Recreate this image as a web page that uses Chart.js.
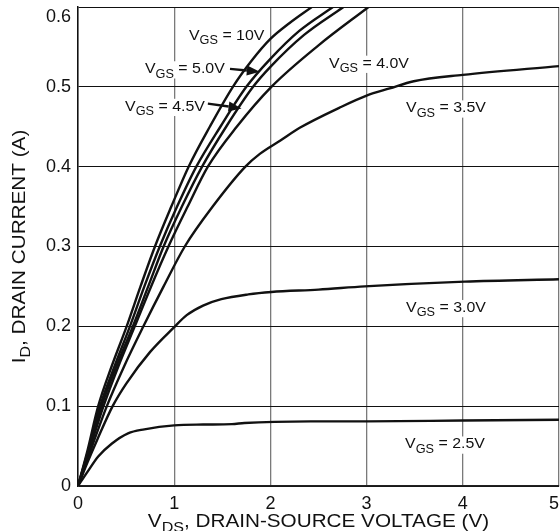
<!DOCTYPE html>
<html>
<head>
<meta charset="utf-8">
<script src="https://cdn.jsdelivr.net/npm/chart.js@4.4.0/dist/chart.umd.min.js"></script>
<style>
html, body { margin: 0; padding: 0; background: #fff; }
#wrap { width: 560px; height: 531px; }
</style>
</head>
<body>
<div id="wrap"><canvas id="myChart"></canvas></div>
<script>
// drain-source voltage (V) and drain current (A), one pair per gate voltage
var vds_10 = [0, 0.1, 0.21, 0.35, 0.506, 0.65, 0.8, 0.97, 1.15, 1.37, 1.61, 1.8, 2.0, 2.2, 2.43];
var id_10  = [0, 0.045, 0.1, 0.15, 0.2, 0.25, 0.3, 0.35, 0.4, 0.45, 0.5, 0.532, 0.56, 0.58, 0.6];

var vds_50 = [0, 0.1, 0.23, 0.38, 0.54, 0.69, 0.85, 1.03, 1.23, 1.48, 1.75, 2.0, 2.3, 2.65];
var id_50  = [0, 0.042, 0.1, 0.15, 0.2, 0.25, 0.3, 0.35, 0.4, 0.45, 0.5, 0.535, 0.57, 0.6];

var vds_45 = [0, 0.1, 0.245, 0.4, 0.57, 0.73, 0.89, 1.08, 1.29, 1.54, 1.82, 2.0, 2.35, 2.76];
var id_45  = [0, 0.04, 0.1, 0.15, 0.2, 0.25, 0.3, 0.35, 0.4, 0.45, 0.5, 0.525, 0.565, 0.6];

var vds_40 = [0, 0.1, 0.265, 0.42, 0.59, 0.76, 0.94, 1.14, 1.35, 1.65, 2.01, 2.5, 3.02];
var id_40  = [0, 0.038, 0.1, 0.15, 0.2, 0.25, 0.3, 0.35, 0.4, 0.45, 0.5, 0.552, 0.6];

var vds_35 = [0, 0.1, 0.3, 0.48, 0.68, 0.89, 1.11, 1.4, 1.74, 1.89, 2.1, 2.31, 2.72, 3.0, 3.24, 3.49, 4.0, 5.0];
var id_35  = [0, 0.034, 0.1, 0.15, 0.2, 0.25, 0.3, 0.35, 0.4, 0.416, 0.4325, 0.449, 0.474, 0.489, 0.498, 0.507, 0.515, 0.526];

var vds_30 = [0, 0.1, 0.2, 0.36, 0.5, 0.75, 1.0, 1.13, 1.3, 1.49, 1.77, 2.01, 2.5, 2.98, 4.02, 5.0];
var id_30  = [0, 0.03, 0.058, 0.1, 0.128, 0.168, 0.199, 0.214, 0.226, 0.234, 0.24, 0.243, 0.246, 0.25, 0.256, 0.259];

var vds_25 = [0, 0.1, 0.21, 0.35, 0.52, 0.69, 1.0, 1.3, 1.6, 1.73, 2.42, 3.0, 4.0, 5.0];
var id_25  = [0, 0.018, 0.037, 0.053, 0.066, 0.071, 0.076, 0.077, 0.0775, 0.079, 0.081, 0.081, 0.082, 0.083];

var gateLabels = ['10V', '5.0V', '4.5V', '4.0V', '3.5V', '3.0V', '2.5V'];
var xTicks = [0, 1, 2, 3, 4, 5];
var yTicks = [0, 0.1, 0.2, 0.3, 0.4, 0.5, 0.6];

// where the curve labels sit (left edge, baseline), in axis units
var labelSpots = [
    [1.154, 0.559], [0.696, 0.517], [0.489, 0.470], [2.61, 0.524],
    [3.41, 0.468], [3.41, 0.218], [3.40, 0.047]
];
// arrows for 5.0V and 4.5V: [fromX, fromY, toX, toY]
var arrows = [
    [1.58, 0.5225, 1.89, 0.519],
    [1.35, 0.479, 1.70, 0.473]
];

var FONT = '"Liberation Sans", Arial, Helvetica, sans-serif';

function pairs(xs, ys) {
    var out = [];
    for (var i = 0; i < xs.length; i++) out.push({x: xs[i], y: ys[i]});
    return out;
}

function curve(xs, ys) {
    return {
        data: pairs(xs, ys),
        showLine: true,
        borderColor: '#111',
        borderWidth: 2.4,
        pointRadius: 0,
        cubicInterpolationMode: 'monotone',
        fill: false
    };
}

// draws text made of [string, isSubscript] pieces
function subText(ctx, x, y, parts, size, subSize, stretch, align, bg) {
    ctx.save();
    ctx.translate(x, y);
    ctx.scale(stretch, 1);
    var total = 0;
    parts.forEach(function(p) {
        ctx.font = (p[1] ? subSize : size) + 'px ' + FONT;
        total += ctx.measureText(p[0]).width;
    });
    var cx = align === 'center' ? -total / 2 : 0;
    if (bg) {
        ctx.fillStyle = '#fff';
        ctx.fillRect(cx - 2, -size * 0.8, total + 4, size * 1.15);
    }
    ctx.fillStyle = '#111';
    ctx.textBaseline = 'alphabetic';
    ctx.textAlign = 'left';
    parts.forEach(function(p) {
        ctx.font = (p[1] ? subSize : size) + 'px ' + FONT;
        ctx.fillText(p[0], cx, p[1] ? size * 0.3 : 0);
        cx += ctx.measureText(p[0]).width;
    });
    ctx.restore();
}

var chartText = {
    id: 'chartText',
    beforeDraw: function(chart) {
        // "0" centred under the axis start, "0.6" tucked under the top edge
        var items = chart.scales.x.getLabelItems();
        if (items.length) items[0].options.textAlign = 'center';
        var yItems = chart.scales.y.getLabelItems();
        if (yItems.length) {
            var last = yItems[yItems.length - 1];
            last.options.textBaseline = 'top';
            last.options.translation = [last.options.translation[0], chart.chartArea.top + 1];
        }
    },
    beforeDatasetsDraw: function(chart) {
        var ctx = chart.ctx, sx = chart.scales.x, sy = chart.scales.y;
        for (var i = 0; i < gateLabels.length; i++) {
            var px = sx.getPixelForValue(labelSpots[i][0]);
            var py = sy.getPixelForValue(labelSpots[i][1]);
            subText(ctx, px, py, [['V', false], ['GS', true], [' = ' + gateLabels[i], false]], 15, 12, 1.06, 'left', true);
        }
    },
    afterDatasetsDraw: function(chart) {
        var ctx = chart.ctx, sx = chart.scales.x, sy = chart.scales.y;
        ctx.save();
        ctx.strokeStyle = '#111';
        ctx.fillStyle = '#111';
        ctx.lineWidth = 2.4;
        arrows.forEach(function(a) {
            var x1 = sx.getPixelForValue(a[0]), y1 = sy.getPixelForValue(a[1]);
            var x2 = sx.getPixelForValue(a[2]), y2 = sy.getPixelForValue(a[3]);
            var ang = Math.atan2(y2 - y1, x2 - x1);
            var hl = 13, hw = 5;
            var bx = x2 - hl * Math.cos(ang), by = y2 - hl * Math.sin(ang);
            ctx.beginPath();
            ctx.moveTo(x1, y1);
            ctx.lineTo(bx, by);
            ctx.stroke();
            ctx.beginPath();
            ctx.moveTo(x2, y2);
            ctx.lineTo(bx + hw * Math.sin(ang), by - hw * Math.cos(ang));
            ctx.lineTo(bx - hw * Math.sin(ang), by + hw * Math.cos(ang));
            ctx.closePath();
            ctx.fill();
        });
        ctx.restore();
    },
    afterDraw: function(chart) {
        var ctx = chart.ctx, area = chart.chartArea;
        // x axis title
        subText(ctx, (area.left + area.right) / 2, 527,
            [['V', false], ['DS', true], [', DRAIN-SOURCE VOLTAGE (V)', false]], 18, 14, 1.15, 'center', false);
        // y axis title
        ctx.save();
        ctx.translate(25, (area.top + area.bottom) / 2);
        ctx.rotate(-Math.PI / 2);
        subText(ctx, 0, 0, [['I', false], ['D', true], [', DRAIN CURRENT (A)', false]], 18, 14, 1.15, 'center', false);
        ctx.restore();
    }
};

var config = {
    type: 'scatter',
    data: {
        datasets: [
            curve(vds_10, id_10),
            curve(vds_50, id_50),
            curve(vds_45, id_45),
            curve(vds_40, id_40),
            curve(vds_35, id_35),
            curve(vds_30, id_30),
            curve(vds_25, id_25)
        ]
    },
    options: {
        responsive: true,
        maintainAspectRatio: false,
        animation: false,
        events: [],
        layout: { padding: { top: 7, right: 1, left: 0, bottom: 0 } },
        plugins: { legend: { display: false }, tooltip: { enabled: false } },
        scales: {
            x: {
                type: 'linear',
                min: 0, max: 5,
                afterBuildTicks: function(scale) {
                    scale.ticks = xTicks.map(function(v) { return {value: v}; });
                },
                afterFit: function(scale) {
                    scale.height = 45;
                    scale.paddingLeft = 0;
                    scale.paddingRight = 0;
                },
                ticks: {
                    align: 'inner',
                    padding: 7,
                    color: '#111',
                    font: { family: FONT, size: 18 },
                    maxRotation: 0,
                    callback: function(v) { return String(v); }
                },
                grid: { color: '#7a7a7a', lineWidth: 1.3, drawTicks: false },
                border: { color: '#222', width: 1.5 }
            },
            y: {
                type: 'linear',
                min: 0, max: 0.6,
                afterBuildTicks: function(scale) {
                    scale.ticks = yTicks.map(function(v) { return {value: v}; });
                },
                afterFit: function(scale) {
                    scale.width = 78;
                    scale.paddingTop = 0;
                    scale.paddingBottom = 0;
                },
                ticks: {
                    padding: 7,
                    color: '#111',
                    font: { family: FONT, size: 18 },
                    callback: function(v) { return v === 0 ? '0' : v.toFixed(1); }
                },
                grid: { color: '#111', lineWidth: 1, drawTicks: false },
                border: { color: '#111', width: 1.5 }
            }
        }
    },
    plugins: [chartText]
};

var myChart = new Chart(document.getElementById('myChart'), config);
</script>
</body>
</html>
